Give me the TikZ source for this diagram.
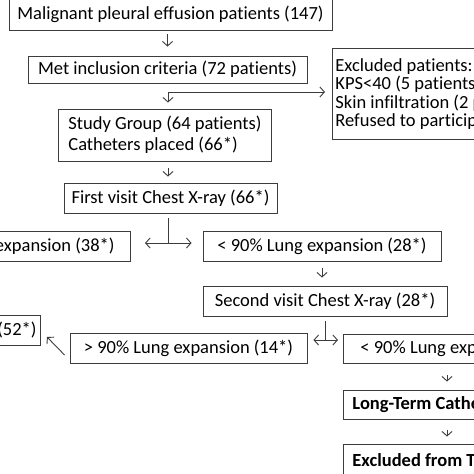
\documentclass[tikz,border=0pt]{standalone}
\usepackage{fontspec}
\setmainfont{Carlito}[Ligatures=NoCommon]
\usetikzlibrary{arrows.meta,calc}
\definecolor{lc}{HTML}{3C3C3C}
\begin{document}
\begin{tikzpicture}[x=1pt,y=-1pt,
  box/.style={draw=lc, line width=0.9pt, rectangle, inner sep=0pt, text=black,
    font=\fontsize{18.5}{18.3}\selectfont},
  tip/.tip={Straight Barb[length=4.5pt,width=10pt]},
  arr/.style={draw=lc, line width=0.9pt, -tip},
  ln/.style={draw=lc, line width=0.9pt}]
\clip (0,0) rectangle (474,474);
\fill[white] (0,0) rectangle (474,474);

\node[box, minimum width=323pt, minimum height=32pt] (b1) at (170.5,14) {Malignant pleural effusion patients (147)};
\node[box, minimum width=279pt, minimum height=27pt] (b2) at (167.5,69.5) {Met inclusion criteria (72 patients)};
\node[box, minimum width=213pt, minimum height=52pt, align=left, inner xsep=8pt, anchor=west,
  font=\fontsize{18.5}{21}\selectfont] (b3) at (58,135) {Study Group (64 patients)\\Catheters placed (66*)};
\node[box, minimum width=213pt, minimum height=30pt] (b4) at (170.5,198) {First visit Chest X-ray (66*)};
\node[box, anchor=east, minimum height=30pt, inner xsep=16pt] (l1) at (131,246) {> 90\% Lung expansion (38*)};
\node[box, minimum width=238pt, minimum height=30pt] (r1) at (322,246) {< 90\% Lung expansion (28*)};
\node[box, minimum width=244pt, minimum height=30pt] (v2) at (325,301) {Second visit Chest X-ray (28*)};
\node[box, minimum width=237pt, minimum height=30pt] (l2) at (188.5,348) {> 90\% Lung expansion (14*)};
\node[box, anchor=east, minimum height=30pt, inner xsep=4pt] (p) at (41,330) {\hspace*{30pt}(52*)};
\node[box, anchor=west, minimum height=29pt, inner xsep=17pt] (r2) at (343,348.5) {< 90\% Lung expansion (14*)};
\node[box, anchor=west, minimum height=29pt, inner xsep=9pt,
  font=\fontsize{18.5}{18.3}\selectfont\bfseries] (lt) at (343,404.5) {Long-Term Catheter (14*)};
\node[box, anchor=west, minimum height=32pt, inner xsep=9pt,
  font=\fontsize{18.5}{18.3}\selectfont\bfseries] (ex) at (343,460) {Excluded from Trial};
\node[box, anchor=north west, minimum height=91pt, inner xsep=3pt, align=left] (exc) at (332,48)
  {Excluded patients:\\KPS<40 (5 patients)\\Skin infiltration (2 patients)\\Refused to participate (1 patient)};

\coordinate (j1) at (168,92);
\coordinate (f1) at (168,243);
\coordinate (f2) at (325,340);
\coordinate (cx) at (447,0);

\draw[arr, shorten <=4pt, shorten >=9pt] (b2.north |- b1.south) -- (b2.north);
\draw[arr, shorten >=7pt] (j1) -- (j1 -| exc.west);
\draw[arr, shorten >=6pt] (j1) -- (j1 |- b3.north);
\draw[arr, shorten <=7pt, shorten >=6pt] (b3.south -| j1) -- (b4.north -| j1);
\draw[ln, shorten <=5pt] (b4.south -| f1) -- (f1);
\draw[arr, shorten >=14pt] (f1) -- (f1 -| l1.east);
\draw[arr, shorten >=11pt] (f1) -- (f1 -| r1.west);
\draw[arr, shorten <=7pt, shorten >=8pt] (r1.south) -- (r1.south |- v2.north);
\draw[ln, shorten <=5pt] (v2.south) -- (f2);
\draw[arr, shorten >=6pt] (f2) -- (f2 -| l2.east);
\draw[arr, shorten >=5pt] (f2) -- (f2 -| r2.west);
\draw[arr] ($(l2.west)+(-5,7)$) -- ($(p.east)+(6,7)$);
\draw[arr, shorten <=12pt, shorten >=8pt] (r2.south west -| cx) -- (lt.north west -| cx);
\draw[arr, shorten <=11pt, shorten >=7pt] (lt.south west -| cx) -- (ex.north west -| cx);
\end{tikzpicture}
\end{document}
